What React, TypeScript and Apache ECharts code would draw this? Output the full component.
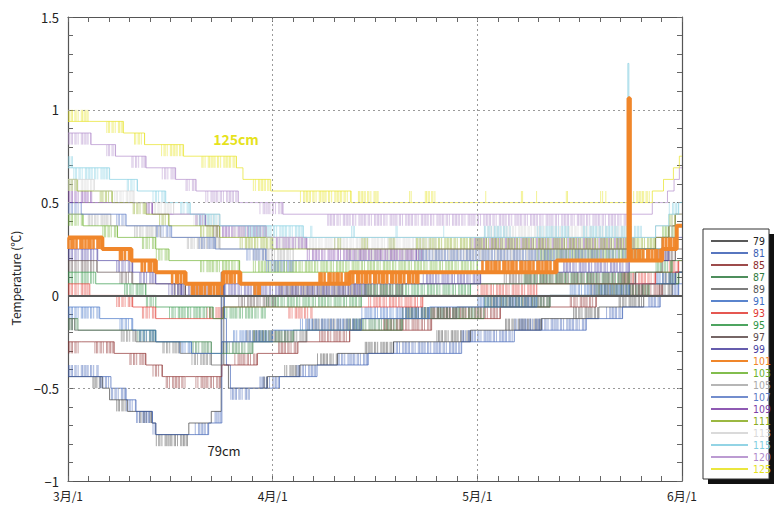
import React, { useEffect, useRef } from 'react';
import * as echarts from 'echarts';

// Depth series names (cm) and their colours
const depths = ['79', '81', '85', '87', '89', '91', '93', '95', '97', '99', '101', '103', '105', '107', '109', '111', '113', '115', '120', '125'];
const lineColors = ['#3c3c3c', '#3a5eb4', '#8c2b2b', '#2f7a40', '#666666', '#3d6ec4', '#e03a32', '#2e9444', '#5e4b4b', '#4a3f9f', '#f0862a', '#6cb22e', '#a9a9a9', '#5b79c4', '#7b3da6', '#8aab20', '#d4d4d4', '#80cde0', '#b08aca', '#e6e21c'];
const textColors = ['#222222', '#3a5eb4', '#8c2b2b', '#2f7a40', '#555555', '#3d6ec4', '#e03a32', '#2e9444', '#5e4b4b', '#4a3f9f', '#f0862a', '#6cb22e', '#a9a9a9', '#5b79c4', '#7b3da6', '#8aab20', '#d9d9d9', '#80cde0', '#b08aca', '#e6e21c'];

// x labels, month lengths
const monthLabels = ['3月/1', '4月/1', '5月/1', '6月/1'];
const monthDays = [31, 30, 31];
const TOTAL_DAYS = 92;
const STEP = 0.0625; // sensor resolution, °C

// Segments: [start day since 3/1, level (in 1/16 °C), flicker direction (-1, 0, +1)]
const S79 = [[0, -7, 0], [3.7, -7, -1], [5.2, -8, 0], [6.3, -9, 0], [7.3, -9, -1], [9, -10, 0], [10.8, -10, -1], [12.7, -11, 0], [13.3, -12, -1], [18.3, -11, 0], [21.7, -10, 0], [23.2, 2, 0], [23.6, -6, 0], [24.3, -8, 0], [29.5, -8, 1], [30.2, -7, 0], [32.7, -7, 1], [35, -6, 0], [37.5, -6, 1], [40.5, -5, 0], [44.5, -5, 1], [48.7, -4, 0], [55, -4, 1], [60, -3, 0], [65.2, -3, 1], [70.7, -2, 0], [75.5, -2, 1], [79.4, -1, 0], [82.4, -1, 1], [86.2, 0, 0], [88.5, 0, 1], [90.5, 1, 0], [91.5, 2, 0]];
const S81 = [[0, -7, 1], [4.8, -7, -1], [6.5, -8, -1], [8.8, -9, -1], [10.3, -10, -1], [12.8, -11, -1], [13.3, -12, 0], [19.2, -12, 1], [21.3, -11, 0], [22.2, -11, 1], [23.3, 2, 0], [23.7, -2, 0], [24, -6, 0], [24.6, -8, -1], [27.5, -8, 0], [29, -8, 1], [32, -7, 0], [34.5, -7, 1], [37.5, -6, 0], [40.5, -6, 1], [45, -5, 0], [48.7, -5, 1], [58.7, -4, 1], [66.6, -3, 1], [77.5, -2, 0], [80.5, -2, 1], [83, -1, 0], [86.9, -1, 1], [88.7, 0, 0], [90.5, 0, 1], [91.5, 1, 0]];
const S85 = [[0, -4, -1], [2, -4, 0], [4, -4, -1], [7, -5, 0], [9.3, -5, -1], [11.8, -6, 0], [12.8, -6, -1], [14.3, -7, 0], [14.8, -7, -1], [17.8, -7, 0], [19.3, -7, -1], [23.3, -6, 0], [25.2, -6, 1], [28.7, -5, 0], [31.8, -5, 1], [34.7, -4, 0], [37.8, -4, 1], [42.3, -3, 0], [47.2, -3, 1], [54.3, -2, 1], [64.5, -1, 0], [75, -1, 1], [79, 0, 0], [84, 0, 1], [89, 1, 0], [91, 2, 0]];
const S87 = [[0, -2, -1], [1.5, -3, 0], [10.5, -3, -1], [13.3, -4, 0], [18.7, -4, -1], [21.7, -5, 0], [23.5, -5, 1], [28, -4, 1], [34, -3, 0], [42, -3, 1], [50, -2, 1], [62, -1, 1], [72, 0, 0], [79, 0, 1], [87, 1, 0], [90, 1, 1], [91.5, 2, 0]];
const S89 = [[0, -2, -1], [1, -3, 0], [8, -3, -1], [10.3, -4, 0], [14.3, -4, -1], [17, -5, 0], [18.7, -5, -1], [21.7, -6, 0], [23.3, -4, 0], [27, -4, 1], [36, -3, 1], [44, -2, 0], [50, -2, 1], [58, -1, 0], [63, -1, 1], [72, 0, 0], [78, 0, 1], [86, 1, 0], [89, 1, 1], [91, 2, 0]];
const S91 = [[0, -1, -1], [4.8, -2, 0], [7.8, -2, -1], [9.8, -3, 0], [10.8, -3, -1], [13.3, -4, 0], [16.8, -4, -1], [18.7, -5, 0], [23.3, -4, 0], [25, -4, 1], [31, -3, 0], [35, -3, 1], [44, -2, 1], [54, -1, 0], [61, -1, 1], [70, 0, 0], [75, 0, 1], [84, 1, 0], [88, 1, 1], [91, 2, 0]];
const S93 = [[0, 1, -1], [3.3, 0, 0], [7.3, 0, -1], [9.8, -1, 0], [11.2, -1, -1], [13.3, -2, 0], [21, -2, 1], [23.5, -1, 0], [33.3, -1, -1], [36.8, -1, 0], [45, -1, 1], [53, 0, 0], [61, 0, 1], [70, 1, 0], [83, 1, 1], [88, 2, 0], [90, 2, 1], [91.5, 3, 0]];
const S95 = [[0, 2, -1], [4.2, 1, 0], [8.5, 1, -1], [11.8, 0, -1], [13.3, -1, 0], [15.3, -1, -1], [22, -2, 0], [23.5, -1, -1], [30, -1, 1], [44, 0, 1], [60, 1, 0], [68, 1, 1], [84, 2, 0], [88, 2, 1], [90.5, 3, 0]];
const S97 = [[0, 3, -1], [4.4, 2, 0], [7.8, 2, -1], [9.8, 1, 0], [16, 1, -1], [17.8, 0, 0], [25.8, 0, -1], [31.8, 0, 0], [32, 0, 1], [50, 1, 0], [65, 1, 1], [85, 2, 0], [89, 3, 1], [91, 4, 0]];
const S99 = [[0, 4, -1], [4.5, 3, 0], [7.3, 3, -1], [9.8, 2, 0], [10.8, 2, -1], [13.3, 1, 0], [15.2, 1, -1], [17.2, 0, 1], [23.5, 1, -1], [45, 1, 0], [53, 1, 1], [61.5, 2, 0], [74, 2, 1], [84, 3, 0], [88, 3, 1], [90, 4, 0], [91.3, 5, 0]];
const S101 = [[0, 5, -1], [5.2, 4, 0], [7.8, 4, -1], [9.6, 3, 0], [11.1, 3, -1], [13.3, 2, 0], [15.7, 2, -1], [17.8, 1, 0], [18.7, 1, -1], [23.5, 2, -1], [26.1, 1, 0], [28.2, 1, -1], [29.1, 1, 0], [37.8, 1, 1], [42.3, 2, -1], [52.7, 2, 0], [61.7, 2, 1], [73, 3, 0], [83.9, 17, 0], [84.1, 3, 1], [89, 4, 1], [91.2, 6, 0]];
const S103 = [[0, 7, -1], [2.3, 6, 0], [5.2, 6, -1], [7.5, 5, 0], [11.2, 5, -1], [13.3, 4, -1], [15.3, 3, 0], [20, 3, -1], [26, 2, 0], [28, 2, 1], [61, 3, 0], [70, 3, 1], [86, 4, 0], [89, 5, 1], [91, 6, 0]];
const S105 = [[0, 7, 0], [3, 7, -1], [6.5, 6, 0], [10, 6, -1], [14, 5, 0], [18, 5, -1], [23, 4, 0], [28, 4, -1], [34, 3, 0], [42, 3, 1], [80, 4, 0], [88, 5, 0], [90.5, 6, 0]];
const S107 = [[0, 8, -1], [2, 7, 0], [7.3, 7, -1], [8.8, 6, 0], [13.3, 6, -1], [15.7, 5, 0], [19.8, 5, -1], [22.3, 4, 0], [27, 4, -1], [30, 3, -1], [34, 3, 0], [52, 3, 1], [85, 4, 0], [89, 5, 0], [91, 6, 0]];
const S109 = [[0, 8, 1], [3.8, 8, 0], [11.8, 8, -1], [12.8, 7, 0], [19.3, 7, -1], [20.8, 6, 0], [22, 6, -1], [30, 5, 0], [31.5, 5, -1], [36, 4, -1], [53, 4, 0], [60, 4, 1], [85, 4, 0], [88, 5, 0], [90, 6, 0], [91, 7, 0]];
const S111 = [[0, 10, -1], [1.4, 9, 0], [4.8, 9, -1], [6.7, 8, 0], [9.8, 8, -1], [11.8, 7, 0], [13.8, 7, -1], [15.3, 6, 0], [20, 6, -1], [23, 5, 0], [26, 5, -1], [31, 4, 0], [40, 4, 1], [41, 4, 0], [44, 4, 1], [45, 4, 0], [48, 4, 1], [49, 4, 0], [52, 4, 1], [88, 5, 0], [90, 6, 1], [91, 7, 0]];
const S113 = [[0, 10, -1], [4, 9, 0], [7, 9, -1], [10, 8, 0], [13, 8, -1], [16, 7, 0], [19, 7, -1], [23, 6, 0], [25, 6, -1], [30, 5, 0], [31, 5, -1], [55, 5, 0], [62, 5, 1], [84, 5, 0], [88, 6, 0], [90.5, 7, 0]];
const S115 = [[0, 11, 1], [0.8, 11, -1], [6.3, 10, 0], [8.9, 10, -1], [10.5, 9, 0], [12.8, 9, -1], [14.8, 8, 0], [17, 8, -1], [18.5, 7, 0], [19.8, 7, -1], [23, 6, 0], [26.8, 6, -1], [35.5, 5, 0], [36.5, 5, 1], [36.8, 5, 0], [42.5, 5, 1], [43, 5, 0], [49, 5, 1], [49.3, 5, 0], [56, 5, 1], [56.3, 5, 0], [62, 5, 1], [66, 5, 0], [70, 5, 1], [75, 5, 0], [77, 5, 1], [83.8, 20, 0], [83.95, 5, 1], [86, 5, 0], [88, 6, 0], [90, 7, 1], [91.5, 8, 0]];
const S120 = [[0, 14, -1], [3.5, 13, 0], [5.8, 13, -1], [7.2, 12, 0], [9.6, 12, -1], [11.8, 11, 0], [14.2, 11, -1], [16.3, 10, 0], [17.8, 10, -1], [19.4, 9, 0], [20.8, 9, -1], [25.8, 8, 0], [29, 8, -1], [32.5, 7, 0], [39, 7, -1], [83.8, 7, 0], [87.5, 8, 0], [89.8, 9, 0], [90.8, 10, 0], [91.6, 11, 0]];
const S125 = [[0, 15, 1], [3.3, 15, 0], [5.8, 15, -1], [8.4, 14, 0], [10, 14, -1], [11.6, 13, 0], [14.1, 13, -1], [17.5, 12, 0], [20.2, 12, -1], [25.5, 11, 0], [26.5, 10, 0], [28, 10, -1], [30.7, 9, 0], [35, 9, -1], [42.5, 8, 0], [43.5, 8, 1], [46.5, 8, 0], [51, 8, 1], [51.4, 8, 0], [53.3, 8, 1], [54.8, 8, 0], [62.2, 8, 1], [62.5, 8, 0], [67.6, 8, 1], [67.9, 8, 0], [69.9, 8, 1], [70.2, 8, 0], [74.4, 8, 1], [74.7, 8, 0], [79.6, 8, 1], [80.6, 8, 0], [84.6, 8, 1], [87.5, 9, 0], [89.2, 10, 0], [90.7, 11, 0], [91.6, 12, 0]];

const allSegments = [S79, S81, S85, S87, S89, S91, S93, S95, S97, S99, S101, S103, S105, S107, S109, S111, S113, S115, S120, S125];

const FONT = '"Noto Sans CJK JP", "Noto Sans", sans-serif';
const LEGEND_FONT = '"Liberation Sans Narrow", "DejaVu Sans Condensed", "Liberation Sans", sans-serif';

function toX(d: number): number {
  let acc = 0;
  for (let i = 0; i < monthDays.length; i++) {
    if (d <= acc + monthDays[i] || i === monthDays.length - 1) return i + (d - acc) / monthDays[i];
    acc += monthDays[i];
  }
  return monthDays.length;
}

function lineData(segs: number[][]) {
  const pts = segs.map((s) => [toX(s[0]), s[1] * STEP]);
  const last = segs[segs.length - 1];
  pts.push([toX(TOTAL_DAYS), last[1] * STEP]);
  return pts;
}

function flickerData(segs: number[][]) {
  const out: number[][] = [];
  for (let i = 0; i < segs.length; i++) {
    const [d0, k, f] = segs[i];
    if (!f) continue;
    const d1 = i + 1 < segs.length ? segs[i + 1][0] : TOTAL_DAYS;
    out.push([toX(d0), toX(d1), k * STEP, (k + f) * STEP]);
  }
  return out;
}

function makeRender(color: string, width: number, opacity: number, gaps: number[]) {
  return (params: any, api: any) => {
    const a = api.coord([api.value(0), api.value(2)]);
    const b = api.coord([api.value(1), api.value(3)]);
    const children: any[] = [];
    let x = a[0] + 0.5;
    let i = params.dataIndex % gaps.length;
    const xEnd = Math.max(b[0], a[0] + 0.6);
    while (x <= xEnd) {
      children.push({
        type: 'line',
        shape: { x1: x, y1: a[1], x2: x, y2: b[1] },
        style: { stroke: color, lineWidth: width, opacity },
        silent: true,
      });
      x += gaps[i % gaps.length];
      i++;
    }
    return { type: 'group', children };
  };
}

function yLabel(v: number): string {
  const r = Math.round(v * 2);
  if (Math.abs(v * 2 - r) > 1e-6) return '';
  const val = r / 2;
  return val < 0 ? '\u2212' + String(-val) : String(val);
}

function xLabel(v: number): string {
  const r = Math.round(v);
  if (Math.abs(v - r) > 1e-6) return '';
  return monthLabels[r] ?? '';
}

export default function App() {
  const ref = useRef<HTMLDivElement>(null);
  useEffect(() => {
    if (!ref.current) return;
    const chart = echarts.init(ref.current, undefined, { renderer: 'svg' });
    const series: any[] = [];
    depths.forEach((name, idx) => {
      const isOrange = name === '101';
      const color = lineColors[idx];
      series.push({
        type: 'custom',
        name: name + '_flicker',
        silent: true,
        z: isOrange ? 4 : 2,
        renderItem: isOrange
          ? makeRender(color, 2.6, 0.95, [3, 2, 3, 4, 2, 3])
          : makeRender(color, 0.75, 0.62, [1.2, 1.6, 1.2, 2.4, 1.2, 2, 3.2, 1.2, 1.6]),
        encode: { x: [0, 1], y: [2, 3] },
        data: flickerData(allSegments[idx]),
      });
      const s: any = {
        type: 'line',
        name,
        step: 'end',
        symbol: 'none',
        silent: true,
        z: isOrange ? 5 : 3,
        lineStyle: { color, width: isOrange ? 4 : 0.8, opacity: isOrange ? 1 : 0.85 },
        itemStyle: { color },
        data: lineData(allSegments[idx]),
      };
      if (idx === 0) {
        s.markLine = {
          silent: true,
          symbol: 'none',
          label: { show: false },
          lineStyle: { type: [2, 3], color: '#9a9a9a', width: 1 },
          data: [
            { yAxis: 0.5 },
            { yAxis: 1 },
            { yAxis: -0.5 },
            { xAxis: 1 },
            { xAxis: 2 },
            { yAxis: 0, lineStyle: { type: 'solid', color: '#5a5a5a', width: 2 } },
          ],
        };
      }
      series.push(s);
    });

    const axisCommonX = {
      type: 'value',
      min: 0,
      max: 3,
      interval: 0.1,
      splitLine: { show: false },
      axisLine: { show: true, onZero: false, lineStyle: { color: '#555', width: 1.2 } },
      axisTick: { show: true, inside: true, length: 5, lineStyle: { color: '#666' } },
    };
    const axisCommonY = {
      type: 'value',
      min: -1,
      max: 1.5,
      interval: 0.1,
      splitLine: { show: false },
      axisLine: { show: true, onZero: false, lineStyle: { color: '#555', width: 1.2 } },
      axisTick: { show: true, inside: true, length: 5, lineStyle: { color: '#666' } },
    };

    chart.setOption({
      animation: false,
      backgroundColor: '#ffffff',
      grid: { left: 68, right: 92, top: 17, bottom: 26 },
      xAxis: [
        {
          ...axisCommonX,
          position: 'bottom',
          axisLabel: { show: true, formatter: xLabel, margin: 8, fontFamily: FONT, fontSize: 12, color: '#222', showMinLabel: true, showMaxLabel: true },
        },
        { ...axisCommonX, position: 'top', axisLabel: { show: false } },
      ],
      yAxis: [
        {
          ...axisCommonY,
          position: 'left',
          axisLabel: { show: true, formatter: yLabel, margin: 9, fontFamily: FONT, fontSize: 13, color: '#222', showMinLabel: true, showMaxLabel: true },
        },
        { ...axisCommonY, position: 'right', axisLabel: { show: false } },
      ],
      legend: {
        show: true,
        z: 20,
        orient: 'vertical',
        left: 710,
        top: 236,
        padding: 0,
        itemGap: 2,
        itemWidth: 37,
        itemHeight: 10,
        selectedMode: false,
        itemStyle: { opacity: 0 },
        textStyle: { fontFamily: LEGEND_FONT, fontSize: 10.4, lineHeight: 10 },
        data: depths.map((d, i) => ({ name: d, textStyle: { color: textColors[i] } })),
      },
      graphic: [
        { type: 'rect', z: -10, shape: { x: 708, y: 234, width: 66, height: 250 }, style: { fill: '#111111' }, silent: true },
        { type: 'rect', z: -9, shape: { x: 703, y: 229, width: 66, height: 250 }, style: { fill: '#ffffff', stroke: '#333333', lineWidth: 1 }, silent: true },
        {
          type: 'text', x: 15, y: 278, rotation: Math.PI / 2, silent: true,
          style: { text: 'Temperature (℃)', fontFamily: FONT, fontSize: 12, fill: '#222', align: 'center', verticalAlign: 'middle' },
        },
        {
          type: 'text', x: 236, y: 139, silent: true, z: 10,
          style: { text: '125cm', fontFamily: FONT, fontSize: 14, fontWeight: 'bold', fill: '#e6e21c', align: 'center', verticalAlign: 'middle' },
        },
        {
          type: 'text', x: 224, y: 450, silent: true, z: 10,
          style: { text: '79cm', fontFamily: FONT, fontSize: 13, fill: '#222', align: 'center', verticalAlign: 'middle' },
        },
      ],
      series,
    });
    return () => chart.dispose();
  }, []);
  return <div ref={ref} style={{ position: 'fixed', left: 0, top: 0, width: 774, height: 507 }} />;
}
